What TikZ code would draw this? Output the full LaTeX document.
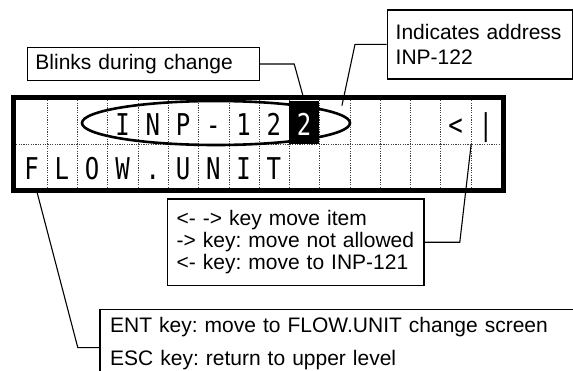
\documentclass[tikz,border=0pt]{standalone}
\usepackage{fontspec}
\setmainfont{Liberation Sans}
\newfontfamily\lcdfont[FakeStretch=0.8]{DejaVu Sans Mono}
\usepackage{tikz}
\usetikzlibrary{shapes.geometric}
\frenchspacing

\tikzset{
  calloutbox/.style={draw, line width=0.6pt, anchor=north west, align=left, inner ysep=0pt,
    execute at begin node={\hyphenpenalty=10000\frenchspacing}},
  lcdcell/.style={minimum width=15.14pt, minimum height=21.875pt, inner sep=0pt,
    font=\lcdfont\fontsize{15}{15}\selectfont, text height=13.4pt, text depth=0pt},
  lcdinv/.style={lcdcell, fill=black, text=white},
  gridline/.style={line width=0.35pt, black!75, dash pattern=on 0.6pt off 0.6pt},
  lcdframe/.style={line width=2.5pt},
  addrring/.style={ellipse, draw, line width=1.3pt, minimum width=134pt, minimum height=22pt, inner sep=0pt},
  leader/.style={line width=0.55pt}
}

\begin{document}
\begin{tikzpicture}[x=0.5pt, y=-0.5pt]
\useasboundingbox (0,0) rectangle (573,370);
\clip (0,0) rectangle (573,370);

% display cells, upper and lower line
\foreach \ch [count=\i] in {{},{},{},I,N,P,-,1,2,{},{},{},{},{},<,|}
  \node[lcdcell] (a\i) at ({31.64+30.28*(\i-1)},122.4) {\ch};
\foreach \ch [count=\i] in {F,L,O,W,.,U,N,I,T,{},{},{},{},{},{},{}}
  \node[lcdcell] (b\i) at ({31.64+30.28*(\i-1)},166.1) {\ch};

\foreach \k in {1,...,15}
  \draw[gridline] (a\k.north east) -- (b\k.south east);
\draw[gridline] (a1.south west) -- (a16.south east);

\node[lcdinv] (blink) at (a10) {2};
\node[addrring] (ring) at (216,123) {};

\draw[lcdframe] ([shift={(-2.5,-2.5)}]a1.north west) rectangle ([shift={(2.5,2.5)}]b16.south east);

% callouts
\node[calloutbox, minimum width=116.15pt, minimum height=16.65pt, inner xsep=4pt, text width=108pt,
  font=\fontsize{10.5}{11}\selectfont] (blinks) at (26.7,46.7) {Blinks during change};
\node[calloutbox, minimum width=92.4pt, minimum height=34.5pt, inner xsep=4.2pt, text width=84pt,
  font=\fontsize{10.5}{12.5}\selectfont] (addr) at (386.7,9.3) {Indicates address\\INP-122};
\node[calloutbox, minimum width=128.3pt, minimum height=43.35pt, inner xsep=4.65pt, text width=119pt,
  font=\fontsize{10.5}{11}\selectfont] (keys) at (166.7,198.3)
  {<- -> key move item\\-> key: move not allowed\\<- key: move to INP-121};
\node[calloutbox, minimum height=34pt, inner xsep=5.1pt, text width=250pt,
  font=\fontsize{10.5}{16.5}\selectfont] (ent) at (99.4,308.5)
  {ENT key: move to FLOW.UNIT change screen\\ESC key: return to upper level};

\draw[leader] (blinks.east) -- ++(34,0) -- (blink.north);
\draw[leader] (addr.west) -- ++(-31.7,0) -- ([xshift=3.75pt,yshift=-2.75pt]a11.north);
\draw[leader] (keys.east) -- ++(35.3,0) -- (a15.south east);
\draw[leader] ([yshift=-2.25pt]ent.west) -- ++(-21.6,0) -- ([xshift=2.2pt]b1.south);
\end{tikzpicture}
\end{document}
